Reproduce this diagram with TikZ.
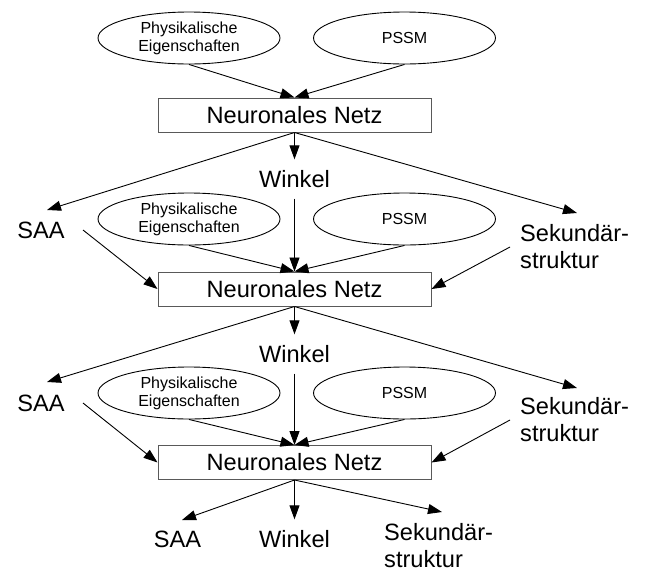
\documentclass[tikz,border=0pt]{standalone}
\usepackage{fontspec}
\setmainfont{Liberation Sans}
\usetikzlibrary{arrows.meta,shapes.geometric}
\newcommand\bigtxt{\fontsize{23.6}{27.5}\selectfont}
\newcommand\smalltxt{\fontsize{16}{18}\selectfont}
\begin{document}
\begin{tikzpicture}[x=1pt,y=-1pt,
 ell/.style={ellipse, draw, line width=0.9pt, minimum width=182pt, minimum height=52pt, inner sep=0pt, font=\smalltxt, align=center},
 nnbox/.style={rectangle, draw=black!65, line width=1pt, minimum width=273pt, minimum height=34pt, inner sep=0pt, font=\bigtxt},
 lbl/.style={font=\bigtxt, inner sep=0pt},
 win/.style={font=\bigtxt, text height=16pt, text depth=0pt, inner xsep=0pt, inner ysep=11.5pt},
 arr/.style={-{Triangle[length=14pt,width=10pt]}, line width=0.9pt}]
\useasboundingbox (0,0) rectangle (645,582);

% ---- stage 1
\node[ell] (p1) at (189,38) {Physikalische\\Eigenschaften};
\node[ell] (m1) at (404.5,38) {PSSM};
\node[nnbox] (n1) at (294.5,115) {Neuronales Netz};
\draw[arr] (p1.south) -- (n1.north);
\draw[arr] (m1.south) -- (n1.north);

\node[win] (w1) at (294.5,179) {Winkel};
\node[lbl, anchor=base] (s1) at (41,238) {SAA};
\node[lbl, anchor=north west, align=left] (k1) at (520,224) {Sekundär-\\struktur};
\coordinate (s1in) at (47,210);
\coordinate (s1out) at (83,230);
\coordinate (k1in) at (577,213);
\coordinate (k1out) at (510,247);
\draw[arr] (n1.south) -- (w1.north);
\draw[arr] (n1.south) -- (s1in);
\draw[arr] (n1.south) -- (k1in);

% ---- stage 2
\node[ell] (p2) at (189,219) {Physikalische\\Eigenschaften};
\node[ell] (m2) at (404.5,219) {PSSM};
\node[nnbox] (n2) at (294.5,289) {Neuronales Netz};
\draw[arr] (p2.south) -- (n2.north);
\draw[arr] (m2.south) -- (n2.north);
\draw[arr] (w1.south) -- (n2.north);
\draw[arr] (s1out) -- (n2.west);
\draw[arr] (k1out) -- (n2.east);

\node[win] (w2) at (294.5,354) {Winkel};
\node[lbl, anchor=base] (s2) at (41,411) {SAA};
\node[lbl, anchor=north west, align=left] (k2) at (520,397) {Sekundär-\\struktur};
\coordinate (s2in) at (47,382);
\coordinate (s2out) at (83,403);
\coordinate (k2in) at (577,388);
\coordinate (k2out) at (510,420);
\draw[arr] (n2.south) -- (w2.north);
\draw[arr] (n2.south) -- (s2in);
\draw[arr] (n2.south) -- (k2in);

% ---- stage 3
\node[ell] (p3) at (189,393) {Physikalische\\Eigenschaften};
\node[ell] (m3) at (404.5,393) {PSSM};
\node[nnbox] (n3) at (294.5,462.5) {Neuronales Netz};
\draw[arr] (p3.south) -- (n3.north);
\draw[arr] (m3.south) -- (n3.north);
\draw[arr] (w2.south) -- (n3.north);
\draw[arr] (s2out) -- (n3.west);
\draw[arr] (k2out) -- (n3.east);

\node[win] (w3) at (294.5,539) {Winkel};
\node[lbl, anchor=base] (s3) at (177.5,547) {SAA};
\node[lbl, anchor=north west, align=left] (k3) at (384,523) {Sekundär-\\struktur};
\coordinate (s3in) at (182,520);
\coordinate (k3in) at (442,512);
\draw[arr] (n3.south) -- (w3.north);
\draw[arr] (n3.south) -- (s3in);
\draw[arr] (n3.south) -- (k3in);
\end{tikzpicture}
\end{document}
